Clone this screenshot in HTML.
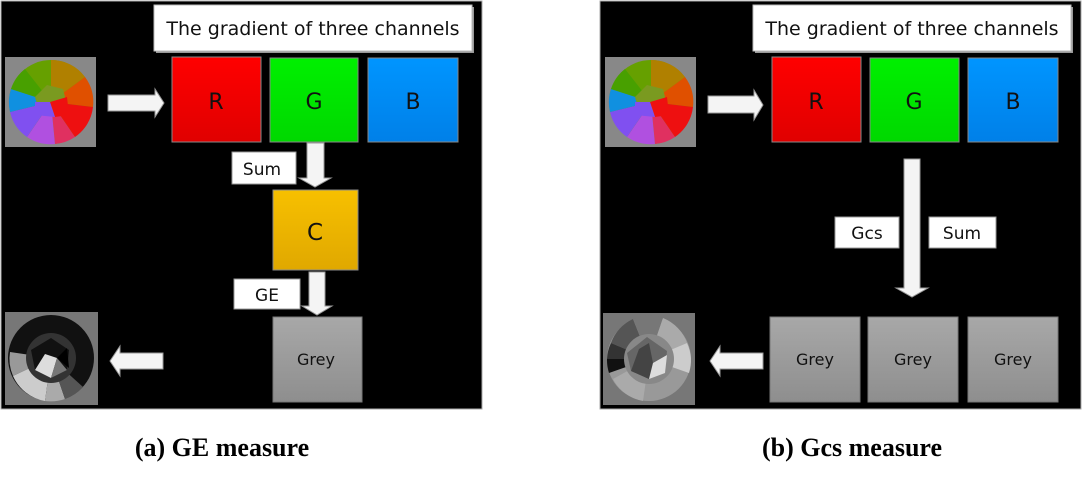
<!DOCTYPE html>
<html><head><meta charset="utf-8"><style>
html,body{margin:0;padding:0;background:#fff;width:1082px;height:480px;overflow:hidden}
svg{display:block}
.lbl{font-family:"DejaVu Sans","Liberation Sans",sans-serif;fill:#111}
.cap{font-family:"Liberation Serif",serif;font-weight:bold;font-size:26px;fill:#000}
</style></head><body>
<svg width="1082" height="480" viewBox="0 0 1082 480" xmlns="http://www.w3.org/2000/svg">
<defs>
<linearGradient id="gr" x1="0" y1="0" x2="0" y2="1"><stop offset="0" stop-color="#ff0000"/><stop offset="1" stop-color="#e00000"/></linearGradient>
<linearGradient id="gg" x1="0" y1="0" x2="0" y2="1"><stop offset="0" stop-color="#00f000"/><stop offset="1" stop-color="#00d800"/></linearGradient>
<linearGradient id="gb" x1="0" y1="0" x2="0" y2="1"><stop offset="0" stop-color="#0095ff"/><stop offset="1" stop-color="#0080e8"/></linearGradient>
<linearGradient id="gc" x1="0" y1="0" x2="0" y2="1"><stop offset="0" stop-color="#f7c000"/><stop offset="1" stop-color="#e0a800"/></linearGradient>
<linearGradient id="gy" x1="0" y1="0" x2="0" y2="1"><stop offset="0" stop-color="#a8a8a8"/><stop offset="1" stop-color="#8e8e8e"/></linearGradient>
<g id="cwheel">
 <rect x="0" y="0" width="91" height="90" fill="#888"/>
 <circle cx="46" cy="45" r="42" fill="#66a000"/>
 <path d="M46 45 L46 3 A42 42 0 0 1 80 20 Z" fill="#b08000"/>
 <path d="M46 45 L80 20 A42 42 0 0 1 88 50 Z" fill="#e05000"/>
 <path d="M46 45 L88 50 A42 42 0 0 1 70 80 Z" fill="#ee1010"/>
 <path d="M46 45 L70 80 A42 42 0 0 1 50 87 Z" fill="#e03060"/>
 <path d="M46 45 L50 87 A42 42 0 0 1 22 80 Z" fill="#b050e0"/>
 <path d="M46 45 L22 80 A42 42 0 0 1 5 55 Z" fill="#8050f0"/>
 <path d="M46 45 L5 55 A42 42 0 0 1 6 32 Z" fill="#1090e0"/>
 <path d="M46 45 L6 32 A42 42 0 0 1 20 12 Z" fill="#48a000"/>
 <polygon points="30,40 42,28 58,32 62,48 50,58 34,54" fill="#7a9a20"/>
 <polygon points="45,45 62,40 64,58 50,60" fill="#ee1010"/>
 <polygon points="30,45 45,45 50,60 30,58" fill="#8050f0"/>
</g>
<g id="gwheelA">
 <rect x="0" y="0" width="93" height="93" fill="#777"/>
 <circle cx="46" cy="46" r="43" fill="#111"/>
 <path d="M46 46 L5 40 A43 43 0 0 0 8 64 Z" fill="#999"/>
 <path d="M46 46 L8 64 A43 43 0 0 0 40 89 Z" fill="#ccc"/>
 <path d="M46 46 L40 89 A43 43 0 0 0 60 87 Z" fill="#aaa"/>
 <path d="M46 46 L60 87 A43 43 0 0 0 78 75 Z" fill="#555"/>
 <circle cx="46" cy="46" r="25" fill="#333"/>
 <polygon points="26,38 46,26 64,38 62,58 46,66 30,58" fill="#111"/>
 <polygon points="30,58 40,42 52,46 46,66" fill="#ddd"/>
 <polygon points="46,66 52,46 62,58" fill="#777"/>
 <polygon points="52,46 62,36 64,56" fill="#000"/>
</g>
<g id="gwheelB">
 <rect x="0" y="0" width="92" height="92" fill="#777"/>
 <circle cx="46" cy="46" r="42" fill="#999"/>
 <path d="M46 46 L8 30 A42 42 0 0 1 30 6 Z" fill="#555"/>
 <path d="M46 46 L4 46 A42 42 0 0 1 8 30 Z" fill="#333"/>
 <path d="M46 46 L6 60 A42 42 0 0 1 4 46 Z" fill="#111"/>
 <path d="M46 46 L30 6 A42 42 0 0 1 60 5 Z" fill="#777"/>
 <path d="M46 46 L60 5 A42 42 0 0 1 84 30 Z" fill="#aaa"/>
 <path d="M46 46 L84 30 A42 42 0 0 1 86 60 Z" fill="#ccc"/>
 <path d="M46 46 L40 88 A42 42 0 0 1 10 66 Z" fill="#aaa"/>
 <circle cx="46" cy="46" r="25" fill="#888"/>
 <polygon points="24,40 44,24 64,38 62,58 46,66 28,58" fill="#666"/>
 <polygon points="28,58 36,36 46,30 50,50 46,66" fill="#444"/>
 <polygon points="50,50 64,42 62,60 46,66" fill="#ddd"/>
</g>
</defs>

<!-- LEFT PANEL -->
<rect x="1" y="1" width="481" height="408" fill="#000" stroke="#aaa" stroke-width="1"/>
<rect x="156" y="7" width="318" height="46" fill="#999"/>
<rect x="154" y="5" width="318" height="46" fill="#fff" stroke="#bbb"/>
<text x="313" y="35" text-anchor="middle" class="lbl" font-size="19">The gradient of three channels</text>
<use href="#cwheel" x="5" y="57"/>
<polygon points="108,95 155,95 155,89 164,103 155,117 155,111 108,111" fill="#f4f4f4" stroke="#999"/>
<rect x="172" y="57" width="89" height="85" fill="url(#gr)" stroke="#888"/>
<text x="216" y="109" text-anchor="middle" class="lbl" font-size="22">R</text>
<rect x="270" y="58" width="88" height="84" fill="url(#gg)" stroke="#888"/>
<text x="314" y="109" text-anchor="middle" class="lbl" font-size="22">G</text>
<rect x="368" y="58" width="90" height="84" fill="url(#gb)" stroke="#888"/>
<text x="413" y="109" text-anchor="middle" class="lbl" font-size="22">B</text>
<rect x="232" y="152" width="64" height="32" fill="#fff" stroke="#999"/>
<text x="262" y="175" text-anchor="middle" class="lbl" font-size="17">Sum</text>
<polygon points="307,143 324,143 324,178 331,178 315,187 299,178 307,178" fill="#f4f4f4" stroke="#999"/>
<rect x="273" y="190" width="85" height="80" fill="url(#gc)" stroke="#888"/>
<text x="315" y="240" text-anchor="middle" class="lbl" font-size="23">C</text>
<rect x="234" y="279" width="66" height="30" fill="#fff" stroke="#999"/>
<text x="267" y="301" text-anchor="middle" class="lbl" font-size="17">GE</text>
<polygon points="309,272 325,272 325,306 332,306 317,315 302,306 309,306" fill="#f4f4f4" stroke="#999"/>
<rect x="273" y="317" width="89" height="85" fill="url(#gy)" stroke="#777"/>
<text x="316" y="365" text-anchor="middle" class="lbl" font-size="16">Grey</text>
<use href="#gwheelA" x="5" y="312"/>
<polygon points="163,353 120,353 120,346 110,361 120,376 120,369 163,369" fill="#f4f4f4" stroke="#999"/>

<!-- RIGHT PANEL -->
<rect x="600" y="1" width="481" height="408" fill="#000" stroke="#aaa" stroke-width="1"/>
<rect x="755" y="7" width="318" height="46" fill="#999"/>
<rect x="753" y="5" width="318" height="46" fill="#fff" stroke="#bbb"/>
<text x="912" y="35" text-anchor="middle" class="lbl" font-size="19">The gradient of three channels</text>
<use href="#cwheel" x="605" y="57"/>
<polygon points="708,96 754,96 754,90 763,105 754,120 754,113 708,113" fill="#f4f4f4" stroke="#999"/>
<rect x="772" y="57" width="89" height="85" fill="url(#gr)" stroke="#888"/>
<text x="816" y="109" text-anchor="middle" class="lbl" font-size="22">R</text>
<rect x="870" y="58" width="89" height="84" fill="url(#gg)" stroke="#888"/>
<text x="914" y="109" text-anchor="middle" class="lbl" font-size="22">G</text>
<rect x="968" y="58" width="90" height="84" fill="url(#gb)" stroke="#888"/>
<text x="1013" y="109" text-anchor="middle" class="lbl" font-size="22">B</text>
<polygon points="904,159 920,159 920,288 928,288 912,297 896,288 904,288" fill="#f4f4f4" stroke="#999"/>
<rect x="835" y="217" width="64" height="31" fill="#fff" stroke="#999"/>
<text x="867" y="239" text-anchor="middle" class="lbl" font-size="17">Gcs</text>
<rect x="929" y="217" width="67" height="31" fill="#fff" stroke="#999"/>
<text x="962" y="239" text-anchor="middle" class="lbl" font-size="17">Sum</text>
<rect x="770" y="317" width="90" height="85" fill="url(#gy)" stroke="#777"/>
<text x="815" y="365" text-anchor="middle" class="lbl" font-size="16">Grey</text>
<rect x="868" y="317" width="90" height="85" fill="url(#gy)" stroke="#777"/>
<text x="913" y="365" text-anchor="middle" class="lbl" font-size="16">Grey</text>
<rect x="968" y="317" width="90" height="85" fill="url(#gy)" stroke="#777"/>
<text x="1013" y="365" text-anchor="middle" class="lbl" font-size="16">Grey</text>
<use href="#gwheelB" x="603" y="313"/>
<polygon points="763,353 720,353 720,346 710,361 720,376 720,369 763,369" fill="#f4f4f4" stroke="#999"/>

<!-- captions -->
<text x="222" y="456" text-anchor="middle" class="cap">(a) GE measure</text>
<text x="852" y="456" text-anchor="middle" class="cap">(b) Gcs measure</text>
</svg>
</body></html>
